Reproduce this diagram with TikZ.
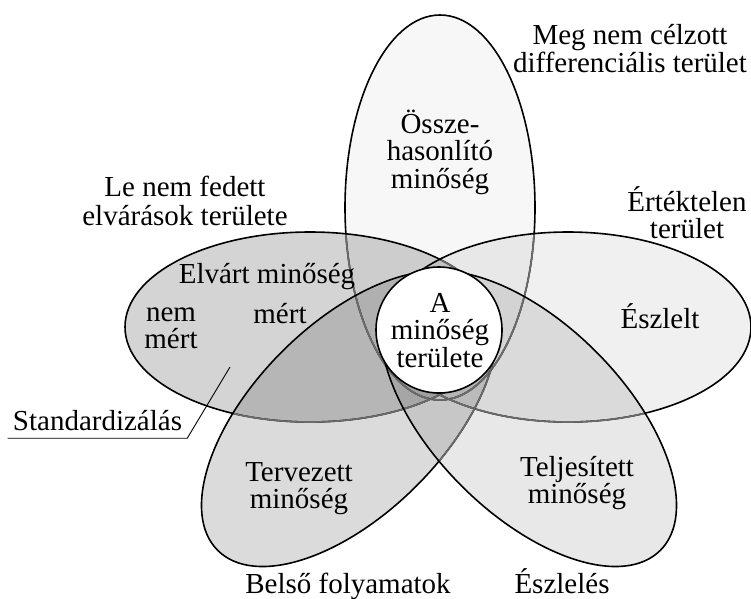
\documentclass[tikz,border=0pt]{standalone}
\usepackage{fontspec}
\setmainfont{Liberation Serif}
\newcommand\petalV[1]{\path[#1] (440,207.5) ellipse [x radius=95pt, y radius=192.5pt];}
\newcommand\petalL[1]{\path[#1] (310,327) ellipse [x radius=185pt, y radius=95pt];}
\newcommand\petalR[1]{\path[#1] (568,327) ellipse [x radius=183pt, y radius=95pt];}
\newcommand\petalT[1]{\path[#1, rotate around={45:(349.2,418.8)}] (349.2,418.8) ellipse [x radius=186pt, y radius=95pt];}
\newcommand\petalQ[1]{\path[#1, rotate around={-45:(528.8,418.8)}] (528.8,418.8) ellipse [x radius=186pt, y radius=95pt];}
\newcommand\lblfont[1]{\fontsize{29}{#1}\selectfont}
\begin{document}
\begin{tikzpicture}[x=1pt,y=-1pt,
  lbl/.style={anchor=base, inner sep=0pt, align=center, font=\lblfont{27}},
  outl/.style={draw=black, line width=1.6pt},
  outg/.style={draw=black!58, line width=1.6pt}]
\path[use as bounding box] (0,0) rectangle (751,598);
% fills
\petalV{fill=black, fill opacity=0.03}
\petalL{fill=black, fill opacity=0.17}
\petalR{fill=black, fill opacity=0.06}
\petalT{fill=black, fill opacity=0.14}
\petalQ{fill=black, fill opacity=0.09}
% outlines, later petals cover earlier lines
\petalV{outl}
\begin{scope}\petalL{clip}\petalV{outg}\end{scope}
\begin{scope}\petalR{clip}\petalV{outg}\end{scope}
\begin{scope}\petalT{clip}\petalV{outg}\end{scope}
\begin{scope}\petalQ{clip}\petalV{outg}\end{scope}
\petalL{outl}
\begin{scope}\petalR{clip}\petalL{outg}\end{scope}
\begin{scope}\petalT{clip}\petalL{outg}\end{scope}
\begin{scope}\petalQ{clip}\petalL{outg}\end{scope}
\petalR{outl}
\begin{scope}\petalT{clip}\petalR{outg}\end{scope}
\begin{scope}\petalQ{clip}\petalR{outg}\end{scope}
\petalT{outl}
\begin{scope}\petalQ{clip}\petalT{outg}\end{scope}
\petalQ{outl}
% centre circle
\node[circle, draw=black, fill=white, line width=1.6pt, minimum size=126pt, inner sep=0pt] (core) at (439,330) {};
% labels (positions: baseline of last line)
\node[lbl, font=\lblfont{26.5}] (meg) at (630,72) {Meg nem célzott\\differenciális terület};
\node[lbl] (ert) at (687,238) {Értéktelen\\terület};
\node[lbl, font=\lblfont{29}] (lenem) at (185,225) {Le nem fedett\\elvárások területe};
\node[lbl] (elv) at (267,283) {Elvárt minőség};
\node[lbl, font=\lblfont{26.5}] (nem) at (171,348) {nem\\mért};
\node[lbl] (mert) at (280,323) {mért};
\node[lbl, font=\lblfont{27.5}] (ossz) at (440,188) {Össze-\\hasonlító\\minőség};
\node[lbl, font=\lblfont{27.5}] (area) at (440,367) {A\\minőség\\területe};
\node[lbl] (eszl) at (660,328) {Észlelt};
\node[lbl] (terv) at (299,508) {Tervezett\\minőség};
\node[lbl] (telj) at (577,503) {Teljesített\\minőség};
\node[lbl] (bel) at (348,593) {Belső folyamatok};
\node[lbl] (eszles) at (562,593) {Észlelés};
\node[lbl, inner xsep=5pt, inner ysep=8pt, text depth=0pt] (std) at (97.5,430) {Standardizálás};
\coordinate (stdend) at (230,367);
\draw[line width=0.9pt] (std.south west) -- (std.south east) -- (stdend);
\end{tikzpicture}
\end{document}
